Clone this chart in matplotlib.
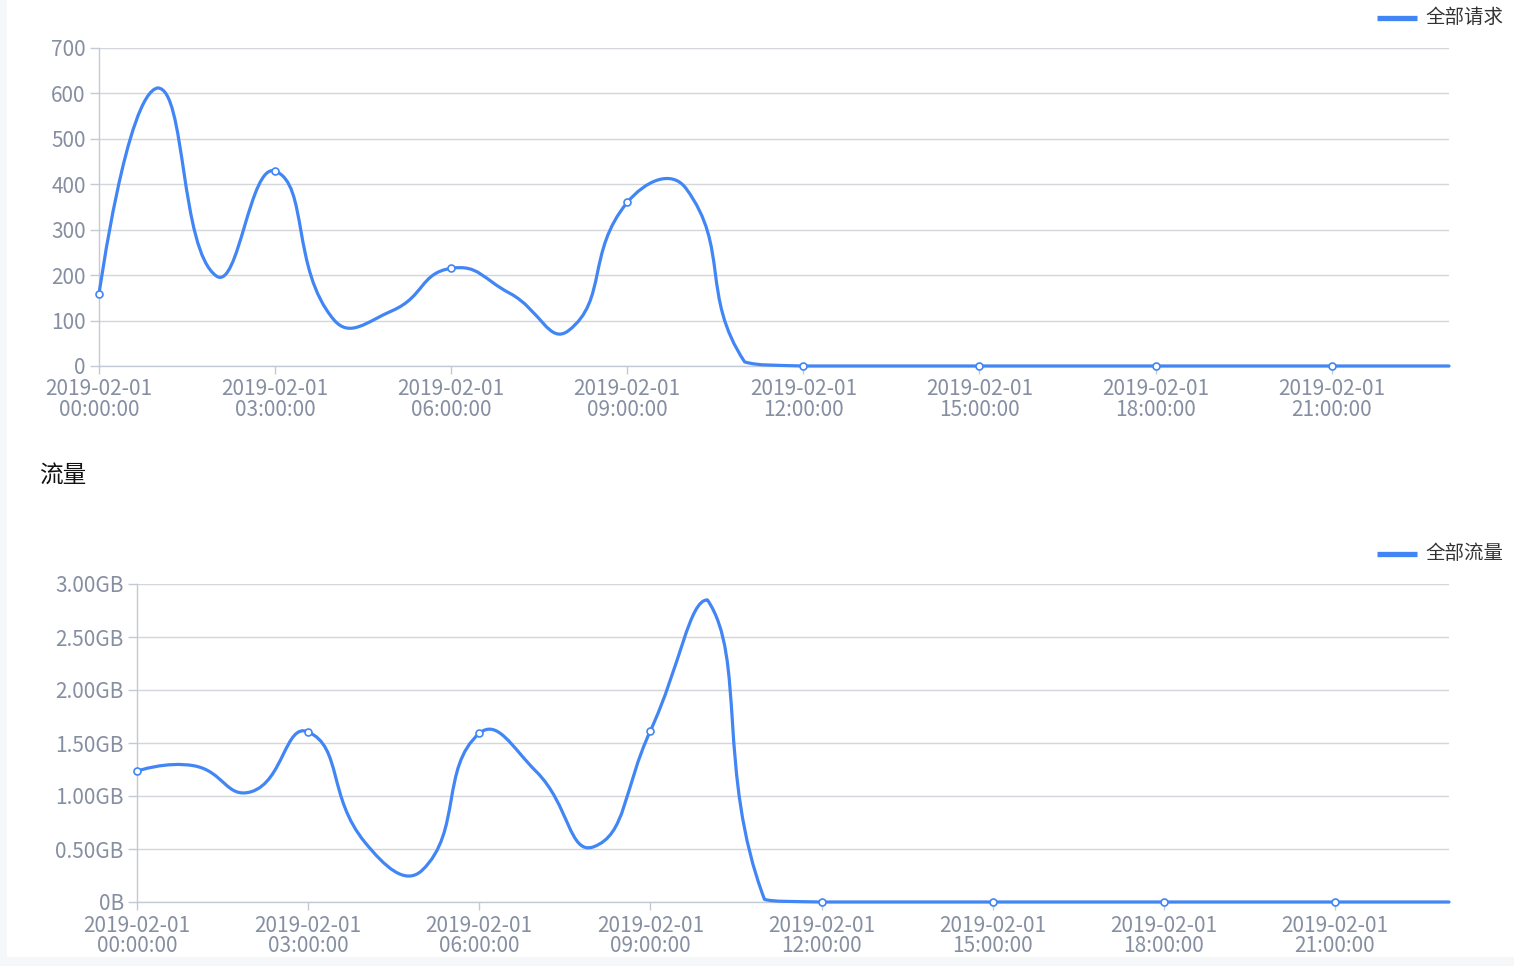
import numpy as np
import matplotlib
matplotlib.use("Agg")
import matplotlib.pyplot as plt
from matplotlib.path import Path
from matplotlib.patches import PathPatch, Rectangle
from matplotlib.lines import Line2D

plt.rcParams['font.family'] = ['Noto Sans CJK SC', 'DejaVu Sans']

# ---------------- data ----------------
hours = list(range(24))
tick_hours = [0, 3, 6, 9, 12, 15, 18, 21]
tick_labels = ["2019-02-01\n%02d:00:00" % h for h in tick_hours]

req_values = [158, 612, 198, 429, 102, 122, 215, 160, 78, 360, 391, 9,
              0, 0, 0, 0, 0, 0, 0, 0, 0, 0, 0, 0]
req_yticks = [0, 100, 200, 300, 400, 500, 600, 700]
req_ylabels = ["0", "100", "200", "300", "400", "500", "600", "700"]

flow_values = [1.235, 1.285, 1.04, 1.605, 0.56, 0.30, 1.59, 1.23, 0.52, 1.615, 2.85, 0.025,
               0, 0, 0, 0, 0, 0, 0, 0, 0, 0, 0, 0]
flow_yticks = [0, 0.5, 1.0, 1.5, 2.0, 2.5, 3.0]
flow_ylabels = ["0B", "0.50GB", "1.00GB", "1.50GB", "2.00GB", "2.50GB", "3.00GB"]

legend_req = "全部请求"
legend_flow = "全部流量"
title_flow = "流量"

# ---------------- style ----------------
W, H = 1514, 966
LINE = "#4186f4"
GRID = "#d3d6db"
AXIS = "#c3c9d5"
TICKTXT = "#868fa2"

fig = plt.figure(figsize=(W / 100, H / 100), dpi=100)
fig.patch.set_facecolor("#f6f7f9")
bg = fig.add_axes([0, 0, 1, 1], zorder=-10)
bg.set_xlim(0, W)
bg.set_ylim(H, 0)
bg.axis("off")
bg.add_patch(Rectangle((7, 0), W, 957, facecolor="white", edgecolor="none"))


def px_box(l, t, r, b):
    return [l / W, 1 - b / H, (r - l) / W, (b - t) / H]


def echarts_smooth(ax, xs, ys, smooth=0.5):
    pts = ax.transData.transform(np.column_stack([xs, ys]))
    mn = pts.min(axis=0)
    mx = pts.max(axis=0)
    n = len(pts)
    verts = [pts[0]]
    codes = [Path.MOVETO]
    cp0 = pts[0].copy()
    for i in range(1, n):
        p = pts[i]
        if i == n - 1:
            cp1 = p.copy()
            nxt_cp0 = None
        else:
            prev = pts[i - 1]
            nxt = pts[i + 1]
            v = nxt - prev
            d0 = np.hypot(*(p - prev))
            d1 = np.hypot(*(p - nxt))
            ratio = d1 / (d0 + d1) if (d0 + d1) > 0 else 0.5
            cp1 = p - v * smooth * (1 - ratio)
            nxt_cp0 = p + v * smooth * ratio
        c0 = np.clip(cp0, mn, mx)
        c1 = np.clip(cp1, mn, mx)
        verts += [c0, c1, p]
        codes += [Path.CURVE4] * 3
        if nxt_cp0 is not None:
            cp0 = nxt_cp0
    verts = ax.transData.inverted().transform(np.array(verts))
    return Path(verts, codes)


def make_chart(box, values, yticks, ylabels, legend_text, legend_y):
    ax = fig.add_axes(px_box(*box))
    ax.set_facecolor("none")
    ax.set_xlim(0, 23)
    ax.set_ylim(yticks[0], yticks[-1])
    ax.set_yticks(yticks)
    ax.set_yticklabels(ylabels)
    ax.set_xticks(tick_hours)
    ax.set_xticklabels(tick_labels, linespacing=0.92)
    for s in ["top", "right"]:
        ax.spines[s].set_visible(False)
    ax.spines["left"].set_color(AXIS)
    ax.spines["bottom"].set_color(AXIS)
    ax.spines["left"].set_linewidth(1.0)
    ax.spines["bottom"].set_linewidth(1.0)
    ax.grid(axis="y", color=GRID, linewidth=1.0)
    ax.set_axisbelow(True)
    ax.tick_params(axis="y", length=6.5, width=1.0, color=AXIS, labelcolor=TICKTXT,
                   labelsize=15, pad=3)
    ax.tick_params(axis="x", length=5.5, width=1.0, color=AXIS, labelcolor=TICKTXT,
                   labelsize=15, pad=3.5)
    path = echarts_smooth(ax, hours, values)
    ax.add_patch(PathPatch(path, facecolor="none", edgecolor=LINE, linewidth=2.3,
                           capstyle="round", joinstyle="round", zorder=3, clip_on=False))
    mx = [h for h in tick_hours]
    my = [values[h] for h in tick_hours]
    ax.plot(mx, my, linestyle="none", marker="o", markersize=5, markerfacecolor="white",
            markeredgecolor=LINE, markeredgewidth=1.2, zorder=4, clip_on=False)
    # legend
    fig.add_artist(Line2D([1377 / W, 1417 / W], [1 - legend_y / H] * 2, transform=fig.transFigure,
                          color=LINE, linewidth=3.8, solid_capstyle="butt"))
    fig.text(1425 / W, 1 - legend_y / H, legend_text, fontsize=14, color="#333333",
             ha="left", va="center")
    return ax


make_chart((99, 48, 1449, 366), req_values, req_yticks, req_ylabels, legend_req, 17.5)
make_chart((137, 584, 1449, 902), flow_values, flow_yticks, flow_ylabels, legend_flow, 553.5)

fig.text(39 / W, 1 - 476 / H, title_flow, fontsize=17, color="#111111", ha="left", va="center")

fig.savefig("out.png", dpi=100, facecolor=fig.get_facecolor())
